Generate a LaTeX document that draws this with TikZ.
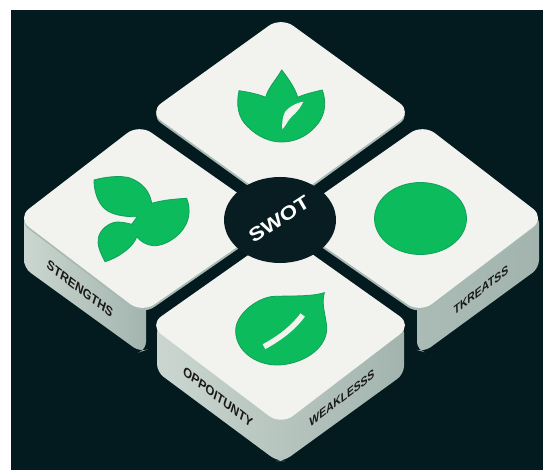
\documentclass[tikz,border=0pt]{standalone}
\usepackage{fontspec}
\usetikzlibrary{shapes.geometric}
\setmainfont{Liberation Sans}
\definecolor{bgdark}{HTML}{031A1F}
\definecolor{hubdark}{HTML}{081D22}
\definecolor{facewhite}{HTML}{F2F2EE}
\definecolor{leafgreen}{HTML}{0CBB5C}
\definecolor{leafedge}{HTML}{10A05A}
\definecolor{sidelight}{HTML}{CBD6D0}
\definecolor{sidedark}{HTML}{A3B4AE}
\definecolor{sliver}{HTML}{A6B9B3}
\tikzset{
  x=1pt,y=-1pt,
  tileface/.style={fill=facewhite,rounded corners=15pt},
  tilesliver/.style={fill=sliver,rounded corners=15pt},
  sidepanel/.style={rounded corners=8pt},
  leaf/.style={fill=leafgreen,draw=leafedge,line width=.8pt},
  sidelabel/.style={inner sep=0pt,text=black!90,font=\fontsize{12}{12}\selectfont\bfseries},
  hublabel/.style={inner sep=0pt,text=white,font=\fontsize{16}{16}\selectfont\bfseries}
}
\begin{document}
\begin{tikzpicture}
\useasboundingbox (0,0) rectangle (543,470);
\fill[white] (0,0) rectangle (543,470);
\fill[bgdark] (11,10) rectangle (543,470);
% side panels
\path[sidepanel,shade,left color=sidelight,right color=sidedark]
  (24,215) -- (24,268) -- (140,352) -- (146,350) -- (146,295) -- cycle;
\path[sidepanel,shade,left color=sidedark!80!sidelight,right color=sidedark]
  (417,295) -- (417,350) -- (424,352) -- (539,268) -- (539,215) -- cycle;
\path[sidepanel,shade,left color=sidelight,right color=sidedark]
  (157,325) -- (157,372) -- (277,461) -- (284,461) -- (404,374) -- (404,325) -- (281,400) -- cycle;
% slivers under the faces
\fill[tilesliver] (281,19.5) -- (149,114.5) -- (281,209.5) -- (412,114.5) -- cycle;
\fill[tilesliver] (139,126) -- (17,220) -- (142,315.5) -- (276,222.5) -- cycle;
\fill[tilesliver] (423,126) -- (545,220) -- (420,315.5) -- (286,222.5) -- cycle;
% faces
\fill[tileface] (281,17) -- (149,112) -- (281,207) -- (412,112) -- cycle;
\fill[tileface] (139,124) -- (17,218) -- (142,313) -- (276,220) -- cycle;
\fill[tileface] (423,124) -- (545,218) -- (420,313) -- (286,220) -- cycle;
\fill[tileface] (281,232) -- (149,325) -- (281,425) -- (412,325) -- cycle;
% hub
\node[ellipse,fill=hubdark,minimum width=112pt,minimum height=86pt,inner sep=0pt] (hub) at (280,220) {};
\node[hublabel,cm={1.2,.78,-.6,1.02,(0,0)}] (swot) at (279,219) {SWOT};
% top icon
\draw[leaf] (281.7,70) .. controls (276,80) and (268,88) .. (265.7,97.3)
  .. controls (258,94) and (248,92) .. (239,90.7)
  .. controls (236,105) and (238,118) .. (248,127)
  .. controls (258,137) and (270,142) .. (281.7,142)
  .. controls (294,142) and (306,137) .. (315,127)
  .. controls (325,117) and (327,103) .. (322.3,90)
  .. controls (314,92) and (305,94) .. (297.7,97.3)
  .. controls (295,88) and (288,78) .. (281.7,70) -- cycle;
\fill[facewhite] (303.3,101.7) .. controls (295,103) and (288,108) .. (285,112)
  .. controls (282,118) and (282,124) .. (282.3,129.5)
  .. controls (287,124) and (288,120) .. (291.7,116.7)
  .. controls (297,112) and (301,107) .. (303.3,101.7) -- cycle;
% left icon
\draw[leaf] (94,180) .. controls (105,177) and (120,175) .. (130,178)
  .. controls (143,183) and (150,192) .. (151.7,203.3)
  .. controls (163,200) and (175,199) .. (186.7,198.3)
  .. controls (191,210) and (190,222) .. (180,233)
  .. controls (170,243) and (160,246) .. (153,245.7)
  .. controls (146,245) and (140,241) .. (136.7,236.7)
  .. controls (134,246) and (120,257) .. (105,261.7)
  .. controls (100,252) and (97,245) .. (98.3,238)
  .. controls (100,230) and (108,223) .. (116.7,222)
  .. controls (122,222) and (127,223) .. (131.7,224.3)
  -- (137.3,216.7) .. controls (125,217) and (112,215) .. (105,209)
  .. controls (97,202) and (94,190) .. (94,180) -- cycle;
% right icon
\draw[leaf] (420.5,218.5) ellipse [x radius=46,y radius=36];
% bottom icon
\draw[leaf] (324.3,292.7) .. controls (310,297) and (290,295.5) .. (272,296.5)
  .. controls (255,299) and (236,315) .. (235.7,330)
  .. controls (235,350) and (255,365) .. (277,365)
  .. controls (300,365) and (327,350) .. (326.7,328)
  .. controls (326,315) and (321,305) .. (324.3,292.7) -- cycle;
\draw[facewhite,line width=5.5pt] (264,346.7) .. controls (280,338) and (293,328) .. (302.7,315);
% labels
\node[sidelabel,cm={.88,-.68,.32,1,(0,0)}] (strengths) at (80,289) {STRENGTHS};
\node[sidelabel,cm={.88,-.68,.32,1,(0,0)}] (opportunity) at (218,397) {OPPOITUNTY};
\node[sidelabel,cm={.85,.65,-.05,1.05,(0,0)}] (weakness) at (342,398) {WEAKLESSS};
\node[sidelabel,cm={.85,.65,-.05,1.05,(0,0)}] (threats) at (481,290) {TKREATSS};
\end{tikzpicture}
\end{document}
